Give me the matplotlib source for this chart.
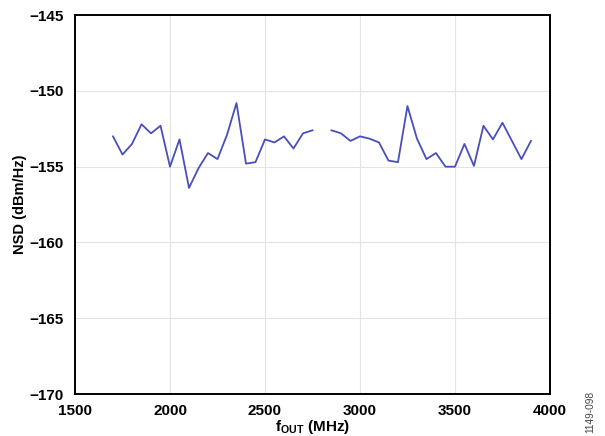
import matplotlib
matplotlib.use("Agg")
import matplotlib.pyplot as plt
import numpy as np

plt.rcParams['font.family'] = ['Liberation Sans', 'DejaVu Sans']

# NSD vs fOUT, two bands with a gap around 2800 MHz
freq_low = [1700, 1750, 1800, 1850, 1900, 1950, 2000, 2050, 2100, 2150, 2200,
            2250, 2300, 2350, 2400, 2450, 2500, 2550, 2600, 2650, 2700, 2750]
nsd_low = [-153.0, -154.2, -153.5, -152.2, -152.8, -152.3, -155.0, -153.2, -156.4, -155.1, -154.1,
           -154.5, -152.9, -150.8, -154.8, -154.7, -153.2, -153.4, -153.0, -153.8, -152.8, -152.6]

freq_high = [2850, 2900, 2950, 3000, 3050, 3100, 3150, 3200, 3250, 3300, 3350,
             3400, 3450, 3500, 3550, 3600, 3650, 3700, 3750, 3800, 3850, 3900]
nsd_high = [-152.6, -152.8, -153.3, -153.0, -153.15, -153.4, -154.6, -154.7, -151.0, -153.15, -154.5,
            -154.1, -155.0, -155.0, -153.5, -154.95, -152.3, -153.2, -152.1, -153.3, -154.5, -153.3]

x_ticks = [1500, 2000, 2500, 3000, 3500, 4000]
y_ticks = [-170, -165, -160, -155, -150, -145]

fig = plt.figure(figsize=(6.05, 4.36), dpi=100)
ax = fig.add_axes([0.124, 0.0963, 0.785, 0.869])

line_color = "#4a4ebd"
ax.plot(freq_low, nsd_low, color=line_color, lw=1.3)
ax.plot(freq_high, nsd_high, color=line_color, lw=1.3)

ax.set_xlim(1500, 4000)
ax.set_ylim(-170, -145)
ax.set_xticks(x_ticks)
ax.set_yticks(y_ticks)
ax.grid(True, color="#e4e4e4", lw=0.8)
ax.set_axisbelow(True)
ax.tick_params(length=0, labelsize=11)
ax.tick_params(axis="x", pad=7)
ax.tick_params(axis="y", pad=8)
for lbl in ax.get_xticklabels() + ax.get_yticklabels():
    lbl.set_fontweight("bold")
for sp in ax.spines.values():
    sp.set_linewidth(1.4)
    sp.set_color("black")

ax.set_xlabel(r"f$_{\mathregular{OUT}}$ (MHz)", fontsize=11, fontweight="bold", labelpad=0)
ax.set_ylabel("NSD (dBm/Hz)", fontsize=10.5, fontweight="bold", labelpad=2)

fig.text(0.975, 0.055, "1149-098", rotation=90, fontsize=7.3, color="#444444",
         ha="center", va="center")

fig.savefig("out.png", dpi=100)
